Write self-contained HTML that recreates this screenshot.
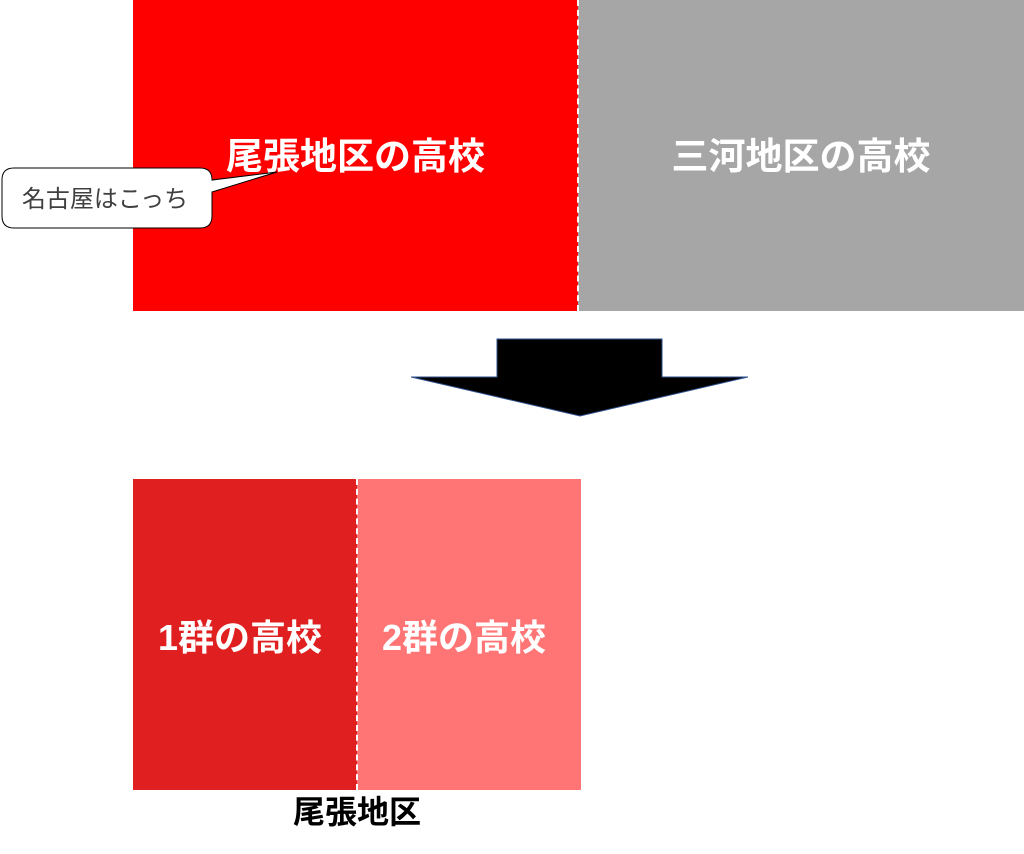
<!DOCTYPE html>
<html><head><meta charset="utf-8"><style>
body{margin:0;width:1024px;height:854px;background:#fff;position:relative;overflow:hidden;font-family:"Liberation Sans","Noto Sans CJK JP",sans-serif}
.b{position:absolute;display:flex;align-items:center;justify-content:center;color:#fff;font-weight:bold}
</style></head><body>
<div class="b" style="left:133px;top:0;width:445px;height:308px;background:#ff0000;font-size:37px;height:311px;padding-bottom:0"><span style="position:relative;top:-3px">尾張地区の高校</span></div>
<div class="b" style="left:578px;top:0;width:446px;height:311px;background:#a6a6a6;font-size:37px"><span style="position:relative;top:-3px">三河地区の高校</span></div>
<div style="position:absolute;left:577px;top:0;height:311px;border-left:2px dashed #fff"></div>
<div class="b" style="left:133px;top:479px;width:224px;height:311px;background:#e02020;font-size:36px"><span style="position:relative;left:-5px">1群の高校</span></div>
<div class="b" style="left:357px;top:479px;width:224px;height:311px;background:#ff7474;font-size:36px"><span style="position:relative;left:-5px">2群の高校</span></div>
<div style="position:absolute;left:356px;top:479px;height:311px;border-left:2px dashed #fff"></div>
<div style="position:absolute;left:133px;top:792px;width:448px;text-align:center;font-weight:bold;font-size:32px;color:#000;line-height:40px">尾張地区</div>
<svg style="position:absolute;left:0;top:0" width="1024" height="854">
<polygon points="497,339 662,339 662,377 748,377 580,416 411,377 497,377" fill="#000" stroke="#2f528f" stroke-width="1"/>
<path d="M14,168 H200 Q212,168 212,180 V180 L277,172 L212,192 V216 Q212,228 200,228 H14 Q2,228 2,216 V180 Q2,168 14,168 Z" fill="#fff" stroke="#000" stroke-width="1"/>
<text x="105" y="207" text-anchor="middle" font-size="24" fill="#404040" font-family="Liberation Sans, Noto Sans CJK JP, sans-serif">名古屋はこっち</text>
</svg>
</body></html>
